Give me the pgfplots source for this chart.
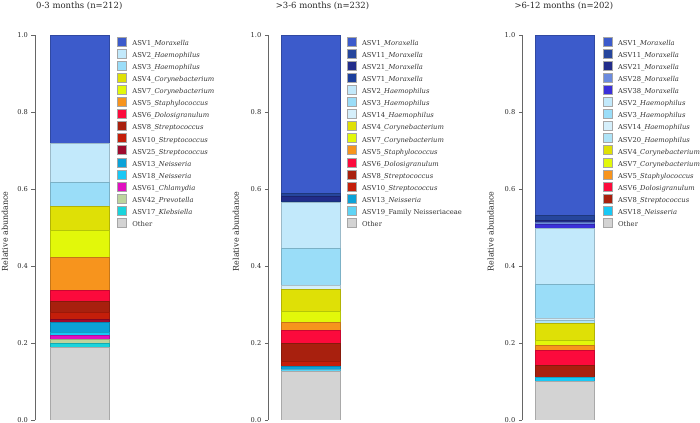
\documentclass[border=0pt]{standalone}
\usepackage{pgfplots}
\pgfplotsset{compat=1.18}
\usepackage{fontspec}
\setmainfont{DejaVu Serif}

\definecolor{m1}{HTML}{3C5BCB}
\definecolor{m11}{HTML}{26469C}
\definecolor{m21}{HTML}{222D8A}
\definecolor{m71}{HTML}{1C3F9C}
\definecolor{m28}{HTML}{6B8BDE}
\definecolor{m38}{HTML}{3B30D9}
\definecolor{h2}{HTML}{C2E9FB}
\definecolor{h3}{HTML}{9ADDF8}
\definecolor{h14}{HTML}{D5EFFB}
\definecolor{h20}{HTML}{AEE3F7}
\definecolor{c4}{HTML}{DFE006}
\definecolor{c7}{HTML}{E2F80A}
\definecolor{s5}{HTML}{F7941D}
\definecolor{d6}{HTML}{FC0A3C}
\definecolor{st8}{HTML}{A8200E}
\definecolor{st10}{HTML}{C41E0A}
\definecolor{st25}{HTML}{9E0A2E}
\definecolor{n13}{HTML}{0BA2D8}
\definecolor{n18}{HTML}{18C8F5}
\definecolor{n19}{HTML}{5FD4F5}
\definecolor{ch61}{HTML}{E010C0}
\definecolor{p42}{HTML}{BCD49D}
\definecolor{k17}{HTML}{1AD4DC}
\definecolor{oth}{HTML}{D3D3D3}

\tikzset{
  ptitle/.style={anchor=base west, inner sep=0pt, font=\fontsize{8.5}{10}\selectfont, text=black!85},
  plabel/.style={at={(axis description cs:#1,0.49)}, rotate=90, anchor=center, inner sep=0pt, font=\fontsize{8}{9}\selectfont, text=black!85},
}
\pgfplotsset{
  seg/.style={fill=#1, draw=#1!80!black, line width=0.4bp},
  panel/.style={
    scale only axis, width=80bp, height=385bp,
    xmin=0, xmax=80, ymin=0, ymax=1,
    axis x line=none, axis y line*=left,
    ybar stacked, bar width=59bp,
    ytick={0,0.2,0.4,0.6,0.8,1},
    yticklabel style={/pgf/number format/.cd, fixed, fixed zerofill, precision=1, assume math mode=true},
    tick align=outside, major tick length=3.5bp,
    axis line style={draw=black!60, line width=0.6bp},
    ytick style={draw=black!60, line width=0.6bp},
    tick label style={font=\fontsize{6.7}{7}\selectfont, text=black!85},
    reverse legend,
    legend cell align=left,
    legend style={draw=none, fill=none, inner sep=0pt, outer sep=0pt, anchor=north west,
      font=\fontsize{6.8}{8}\selectfont, text=black!80, row sep=0.9bp, column sep=6bp,
      nodes={inner sep=0pt, text height=6.5bp, text depth=2.5bp}},
    legend image code/.code={\draw[##1, draw=black!35, line width=0.4bp] (0bp,-2.5bp) rectangle (9bp,6.5bp);},
  },
}

\begin{document}
\begin{tikzpicture}
\path[use as bounding box] (0,0) rectangle (700bp,423bp);

% ---------- Panel 1 ----------
\begin{axis}[panel, at={(35bp,3bp)}, anchor=south west,
  legend style={at={(axis description cs:1.025,0.996)}},
  ylabel={Relative abundance},
  every axis y label/.style={plabel=-0.375},
]
\addplot[seg=oth]  coordinates {(44.5,0.190)};
\addplot[seg=k17]  coordinates {(44.5,0.010)};
\addplot[seg=p42]  coordinates {(44.5,0.009)};
\addplot[seg=ch61] coordinates {(44.5,0.010)};
\addplot[seg=n18]  coordinates {(44.5,0.008)};
\addplot[seg=n13]  coordinates {(44.5,0.026)};
\addplot[seg=st25] coordinates {(44.5,0.009)};
\addplot[seg=st10] coordinates {(44.5,0.019)};
\addplot[seg=st8]  coordinates {(44.5,0.027)};
\addplot[seg=d6]   coordinates {(44.5,0.028)};
\addplot[seg=s5]   coordinates {(44.5,0.088)};
\addplot[seg=c7]   coordinates {(44.5,0.069)};
\addplot[seg=c4]   coordinates {(44.5,0.063)};
\addplot[seg=h3]   coordinates {(44.5,0.062)};
\addplot[seg=h2]   coordinates {(44.5,0.101)};
\addplot[seg=m1]   coordinates {(44.5,0.281)};
\legend{Other, ASV17\_\textit{Klebsiella}, ASV42\_\textit{Prevotella}, ASV61\_\textit{Chlamydia},
  ASV18\_\textit{Neisseria}, ASV13\_\textit{Neisseria}, ASV25\_\textit{Streptococcus},
  ASV10\_\textit{Streptococcus}, ASV8\_\textit{Streptococcus}, ASV6\_\textit{Dolosigranulum},
  ASV5\_\textit{Staphylococcus}, ASV7\_\textit{Corynebacterium}, ASV4\_\textit{Corynebacterium},
  ASV3\_\textit{Haemophilus}, ASV2\_\textit{Haemophilus}, ASV1\_\textit{Moraxella}}
\end{axis}

% ---------- Panel 2 ----------
\begin{axis}[panel, at={(268.3bp,3bp)}, anchor=south west,
  legend style={at={(axis description cs:0.98,0.996)}},
  ylabel={Relative abundance},
  every axis y label/.style={plabel=-0.404},
]
\addplot[seg=oth]  coordinates {(42.2,0.128)};
\addplot[seg=n19]  coordinates {(42.2,0.004)};
\addplot[seg=n13]  coordinates {(42.2,0.008)};
\addplot[seg=st10] coordinates {(42.2,0.012)};
\addplot[seg=st8]  coordinates {(42.2,0.047)};
\addplot[seg=d6]   coordinates {(42.2,0.035)};
\addplot[seg=s5]   coordinates {(42.2,0.020)};
\addplot[seg=c7]   coordinates {(42.2,0.028)};
\addplot[seg=c4]   coordinates {(42.2,0.057)};
\addplot[seg=h14]  coordinates {(42.2,0.011)};
\addplot[seg=h3]   coordinates {(42.2,0.096)};
\addplot[seg=h2]   coordinates {(42.2,0.120)};
\addplot[seg=m71]  coordinates {(42.2,0.003)};
\addplot[seg=m21]  coordinates {(42.2,0.012)};
\addplot[seg=m11]  coordinates {(42.2,0.009)};
\addplot[seg=m1]   coordinates {(42.2,0.410)};
\legend{Other, ASV19\_Family Neisseriaceae, ASV13\_\textit{Neisseria},
  ASV10\_\textit{Streptococcus}, ASV8\_\textit{Streptococcus}, ASV6\_\textit{Dolosigranulum},
  ASV5\_\textit{Staphylococcus}, ASV7\_\textit{Corynebacterium}, ASV4\_\textit{Corynebacterium},
  ASV14\_\textit{Haemophilus}, ASV3\_\textit{Haemophilus}, ASV2\_\textit{Haemophilus},
  ASV71\_\textit{Moraxella}, ASV21\_\textit{Moraxella}, ASV11\_\textit{Moraxella}, ASV1\_\textit{Moraxella}}
\end{axis}

% ---------- Panel 3 ----------
\begin{axis}[panel, at={(522.3bp,3bp)}, anchor=south west,
  legend style={at={(axis description cs:1.005,0.996)}},
  ylabel={Relative abundance},
  every axis y label/.style={plabel=-0.395},
]
\addplot[seg=oth]  coordinates {(42.7,0.102)};
\addplot[seg=n18]  coordinates {(42.7,0.009)};
\addplot[seg=st8]  coordinates {(42.7,0.032)};
\addplot[seg=d6]   coordinates {(42.7,0.039)};
\addplot[seg=s5]   coordinates {(42.7,0.012)};
\addplot[seg=c7]   coordinates {(42.7,0.013)};
\addplot[seg=c4]   coordinates {(42.7,0.044)};
\addplot[seg=h20]  coordinates {(42.7,0.007)};
\addplot[seg=h14]  coordinates {(42.7,0.006)};
\addplot[seg=h3]   coordinates {(42.7,0.088)};
\addplot[seg=h2]   coordinates {(42.7,0.147)};
\addplot[seg=m38]  coordinates {(42.7,0.009)};
\addplot[seg=m28]  coordinates {(42.7,0.005)};
\addplot[seg=m21]  coordinates {(42.7,0.006)};
\addplot[seg=m11]  coordinates {(42.7,0.013)};
\addplot[seg=m1]   coordinates {(42.7,0.468)};
\legend{Other, ASV18\_\textit{Neisseria}, ASV8\_\textit{Streptococcus}, ASV6\_\textit{Dolosigranulum},
  ASV5\_\textit{Staphylococcus}, ASV7\_\textit{Corynebacterium}, ASV4\_\textit{Corynebacterium},
  ASV20\_\textit{Haemophilus}, ASV14\_\textit{Haemophilus}, ASV3\_\textit{Haemophilus}, ASV2\_\textit{Haemophilus},
  ASV38\_\textit{Moraxella}, ASV28\_\textit{Moraxella}, ASV21\_\textit{Moraxella}, ASV11\_\textit{Moraxella}, ASV1\_\textit{Moraxella}}
\end{axis}

% ---------- Panel titles ----------
\node[ptitle] at (36bp,414bp) {0-3 months (n=212)};
\node[ptitle] at (275.7bp,414bp) {>3-6 months (n=232)};
\node[ptitle] at (514.3bp,414bp) {>6-12 months (n=202)};
\end{tikzpicture}
\end{document}
